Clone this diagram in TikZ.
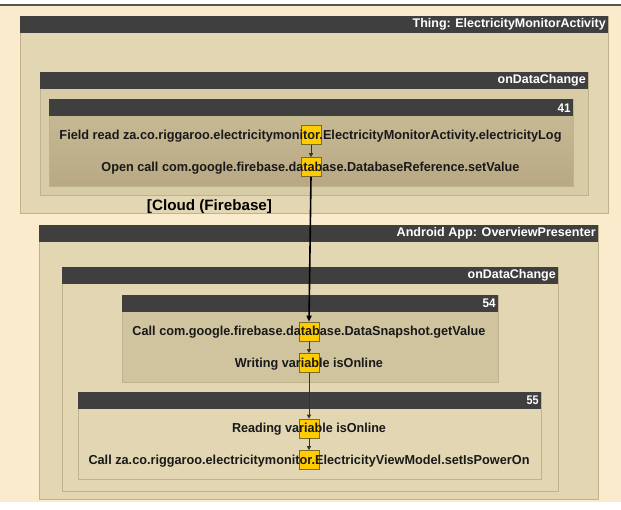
\documentclass[tikz,border=0pt]{standalone}
\usepackage{fontspec}
\usepackage{graphicx}
\setmainfont{Liberation Sans}
\usetikzlibrary{arrows.meta}
\definecolor{bgc}{HTML}{F9EBCB}
\definecolor{lvlone}{HTML}{E3D7B3}
\definecolor{lvltwo}{HTML}{D8CCA7}
\definecolor{bftop}{HTML}{C9BC97}
\definecolor{bfbot}{HTML}{B8A984}
\definecolor{lvlfs}{HTML}{D0C49F}
\definecolor{hdrc}{HTML}{3F3F3F}
\definecolor{edgec}{HTML}{BFB28C}
\definecolor{yel}{HTML}{FFCC00}
\definecolor{yeledge}{HTML}{7A6A2A}
\definecolor{topline}{HTML}{555555}
\newcommand\fitw[2]{\resizebox{#1pt}{\height}{#2}}
\newcommand\mypanel[8]{%
  \node[panel, #6, minimum width=#4pt, minimum height=#5pt] (#1) at (#2,#3) {};
  \node[hdrbar, minimum width=#4pt] (#1h) at (#2,#3) {};
  \node[hdrtext] (#1t) at ([xshift=-2.5pt]#1h.east) {\fitw{#8}{#7}};
}
\tikzset{
  panel/.style={draw=edgec, line width=0.8pt, anchor=north west, inner sep=0pt},
  hdrbar/.style={fill=hdrc, anchor=north west, inner sep=0pt, minimum height=17pt},
  hdrtext/.style={text=white, font=\bfseries\fontsize{12.5}{14}\selectfont, anchor=east, inner sep=0pt},
  stmt/.style={font=\bfseries\fontsize{13}{15}\selectfont, inner sep=0pt, text=black!90},
  ysq/.style={draw=yeledge, fill=yel, line width=0.6pt, minimum width=20pt, minimum height=19pt, inner sep=0pt},
  thinarr/.style={draw=black!80, line width=0.7pt, -{Triangle[length=4pt,width=4pt]}},
  thickarr/.style={draw=black, line width=1.6pt, -{Triangle[length=6pt,width=5pt]}},
  cloudtext/.style={font=\bfseries\fontsize{15}{17}\selectfont, inner sep=0pt}
}
\begin{document}
\begin{tikzpicture}[x=1pt, y=-1pt]
\useasboundingbox (0,0) rectangle (621,509);
\fill[white] (0,0) rectangle (621,509);
\fill[bgc] (0,6) rectangle (621,502);
\fill[topline] (0,4) rectangle (621,6);

% Thing
\mypanel{thing}{20}{16}{588}{197}{fill=lvlone}{Thing: ElectricityMonitorActivity}{193}
\mypanel{odca}{40}{72}{548}{123}{fill=lvltwo}{onDataChange}{88}
\mypanel{bfo}{49}{99}{524}{87}{top color=bftop, bottom color=bfbot}{41}{13}

% Cloud label
\node[cloudtext] (cloud) at (209.5,207) {\fitw{125}{[Cloud (Firebase]}};

% Android
\mypanel{andr}{39}{225}{559}{274}{fill=lvlone}{Android App: OverviewPresenter}{199}
\mypanel{odcb}{62}{267}{496}{224}{fill=lvlone}{onDataChange}{88}
\mypanel{bfs}{122}{295}{376}{87}{fill=lvlfs}{54}{13}
\mypanel{bff}{78}{392}{463}{87}{fill=lvlone}{55}{12}

% squares
\node[ysq] (s1) at (311,135) {};
\node[ysq] (s2) at (311,167) {};
\node[ysq] (s3) at (309,331.5) {};
\node[ysq] (s4) at (309,363) {};
\node[ysq] (s5) at (309,428.5) {};
\node[ysq] (s6) at (309,460) {};

% connectors
\draw[thinarr] (s1.south) -- (s2.north);
\draw[thickarr] (s2.south) -- (s3.north);
\draw[thinarr] (s3.south) -- (s4.north);
\draw[thinarr] (s4.south) -- (s5.north);
\draw[thinarr] (s5.south) -- (s6.north);

% statements
\node[stmt] (t1) at (310.5,136.5) {\fitw{502}{Field read za.co.riggaroo.electricitymonitor.ElectricityMonitorActivity.electricityLog}};
\node[stmt] (t2) at (310.5,168) {\fitw{418}{Open call com.google.firebase.database.DatabaseReference.setValue}};
\node[stmt] (t3) at (309,332) {\fitw{353}{Call com.google.firebase.database.DataSnapshot.getValue}};
\node[stmt] (t4) at (309,364) {\fitw{148}{Writing variable isOnline}};
\node[stmt] (t5) at (309,429) {\fitw{154}{Reading variable isOnline}};
\node[stmt] (t6) at (309,461) {\fitw{441}{Call za.co.riggaroo.electricitymonitor.ElectricityViewModel.setIsPowerOn}};
\end{tikzpicture}
\end{document}
